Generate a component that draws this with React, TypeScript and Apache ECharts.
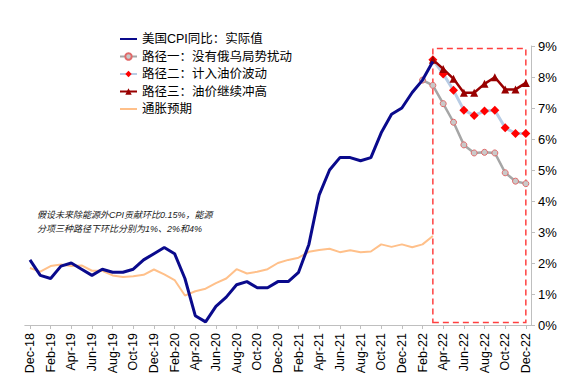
import React, { useEffect, useRef } from "react";
import * as echarts from "echarts";

const months = [
  "Dec-18","Jan-19","Feb-19","Mar-19","Apr-19","May-19","Jun-19","Jul-19","Aug-19","Sep-19","Oct-19","Nov-19",
  "Dec-19","Jan-20","Feb-20","Mar-20","Apr-20","May-20","Jun-20","Jul-20","Aug-20","Sep-20","Oct-20","Nov-20",
  "Dec-20","Jan-21","Feb-21","Mar-21","Apr-21","May-21","Jun-21","Jul-21","Aug-21","Sep-21","Oct-21","Nov-21",
  "Dec-21","Jan-22","Feb-22","Mar-22","Apr-22","May-22","Jun-22","Jul-22","Aug-22","Sep-22","Oct-22","Nov-22","Dec-22",
];

// Actual CPI YoY, Dec-18 .. Mar-22
const cpiActual = [
  2.1, 1.6, 1.5, 1.9, 2.0, 1.8, 1.6, 1.8, 1.7, 1.7, 1.8, 2.1,
  2.3, 2.5, 2.3, 1.5, 0.3, 0.1, 0.6, 0.9, 1.3, 1.4, 1.2, 1.2,
  1.4, 1.4, 1.7, 2.6, 4.2, 5.0, 5.4, 5.4, 5.3, 5.4, 6.2, 6.8,
  7.0, 7.5, 7.9, 8.5,
];

// Inflation expectations, Dec-18 .. Mar-22
const inflationExp = [
  1.84, 1.72, 1.9, 1.95, 1.9, 1.92, 1.75, 1.75, 1.6, 1.55, 1.57, 1.62,
  1.79, 1.63, 1.45, 0.95, 1.09, 1.17, 1.35, 1.5, 1.8, 1.66, 1.72, 1.8,
  2.0, 2.1, 2.17, 2.36, 2.42, 2.46, 2.35, 2.41, 2.35, 2.37, 2.6, 2.52,
  2.6, 2.51, 2.6, 2.87,
];

// Path 1: Feb-22 .. Dec-22
const path1 = [7.9, 7.73, 7.14, 6.54, 5.81, 5.55, 5.57, 5.55, 4.91, 4.64, 4.56];
// Path 2: Mar-22 .. Dec-22
const path2 = [8.56, 8.1, 7.57, 6.93, 6.76, 6.9, 6.93, 6.36, 6.18, 6.18];
// Path 3: Mar-22 .. Dec-22
const path3 = [8.56, 8.26, 7.94, 7.49, 7.49, 7.78, 7.99, 7.6, 7.6, 7.81];

const yTicks = [0, 1, 2, 3, 4, 5, 6, 7, 8, 9];
const forecastBox = { from: "Mar-22", to: "Dec-22", low: 0.08, high: 8.92 };

const seriesNames = [
  "美国CPI同比：实际值",
  "路径一：没有俄乌局势扰动",
  "路径二：计入油价波动",
  "路径三：油价继续冲高",
  "通胀预期",
];

const noteLines = [
  "假设未来除能源外CPI贡献环比0.15%，能源",
  "分项三种路径下环比分别为1%、2%和4%",
];

function pad(values: number[], startLabel: string): (number | null)[] {
  const start = months.indexOf(startLabel);
  return months.map((_, i) => {
    const k = i - start;
    return k >= 0 && k < values.length ? values[k] : null;
  });
}

const FONT = "'Liberation Sans', Arial, 'Noto Sans CJK SC', sans-serif";

export default function App() {
  const ref = useRef<HTMLDivElement>(null);
  useEffect(() => {
    if (!ref.current) return;
    const chart = echarts.init(ref.current, undefined, { renderer: "svg" });
    const hiddenSymbol = { opacity: 0, color: "rgba(0,0,0,0)", borderWidth: 0 };
    chart.setOption({
      animation: false,
      backgroundColor: "#ffffff",
      textStyle: { fontFamily: FONT },
      grid: { left: 24.8, right: 52, top: 46, bottom: 63, containLabel: false },
      legend: {
        orient: "vertical",
        left: 114,
        top: 27,
        itemWidth: 17,
        itemHeight: 8,
        itemGap: 3.5,
        data: [
          { name: seriesNames[0], itemStyle: hiddenSymbol },
          { name: seriesNames[1] },
          { name: seriesNames[2] },
          { name: seriesNames[3] },
          { name: seriesNames[4], itemStyle: hiddenSymbol },
        ],
        textStyle: { fontSize: 12.5, lineHeight: 14, color: "#000", fontFamily: FONT },
      },
      xAxis: {
        type: "category",
        data: months,
        boundaryGap: true,
        axisLine: { lineStyle: { color: "#bfbfbf", width: 1 } },
        axisTick: { show: true, interval: 1, alignWithLabel: true, length: 4, lineStyle: { color: "#bfbfbf" } },
        axisLabel: { interval: 1, rotate: 90, fontSize: 12.5, color: "#000", margin: 8, fontFamily: FONT },
        splitLine: { show: false },
      },
      yAxis: {
        type: "value",
        position: "right",
        min: yTicks[0],
        max: yTicks[yTicks.length - 1],
        interval: 1,
        axisLine: { show: true, lineStyle: { color: "#bfbfbf" } },
        axisTick: { show: true, length: 4, lineStyle: { color: "#bfbfbf" } },
        axisLabel: { formatter: "{value}%", fontSize: 13, color: "#000", margin: 7, fontFamily: FONT },
        splitLine: { show: false },
      },
      graphic: [
        {
          type: "text",
          left: 37,
          top: 208,
          style: {
            text: noteLines.join("\n"),
            font: "italic 9px 'Liberation Sans', 'Noto Sans CJK SC', sans-serif",
            fill: "#222",
            lineHeight: 14,
          },
        },
      ],
      series: [
        {
          name: seriesNames[0],
          type: "line",
          data: pad(cpiActual, "Dec-18"),
          symbol: "none",
          lineStyle: { color: "#0a0a8c", width: 3 },
          itemStyle: { color: "#0a0a8c" },
          z: 3,
        },
        {
          name: seriesNames[1],
          type: "line",
          data: pad(path1, "Feb-22"),
          symbol: "circle",
          symbolSize: 6,
          showAllSymbol: true,
          lineStyle: { color: "#a6a6a6", width: 2.5 },
          itemStyle: { color: "#c9c9c9", borderColor: "#e06a6a", borderWidth: 1 },
          z: 2,
        },
        {
          name: seriesNames[2],
          type: "line",
          data: pad(path2, "Mar-22"),
          symbol: "diamond",
          symbolSize: 9,
          showAllSymbol: true,
          lineStyle: { color: "#b8cce4", width: 3 },
          itemStyle: { color: "#ff0000" },
          z: 2,
        },
        {
          name: seriesNames[3],
          type: "line",
          data: pad(path3, "Mar-22"),
          symbol: "triangle",
          symbolSize: 8,
          showAllSymbol: true,
          lineStyle: { color: "#990000", width: 2.5 },
          itemStyle: { color: "#990000" },
          z: 2,
          markArea: {
            silent: true,
            itemStyle: {
              color: "rgba(0,0,0,0)",
              borderColor: "#ff4040",
              borderWidth: 1.5,
              borderType: [6, 4],
            },
            data: [
              [
                { xAxis: forecastBox.from, yAxis: forecastBox.low },
                { xAxis: forecastBox.to, yAxis: forecastBox.high },
              ],
            ],
          },
        },
        {
          name: seriesNames[4],
          type: "line",
          data: pad(inflationExp, "Dec-18"),
          symbol: "none",
          lineStyle: { color: "#ffc08a", width: 2 },
          itemStyle: { color: "#ffc08a" },
          z: 1,
        },
      ],
    });
    return () => chart.dispose();
  }, []);
  return (
    <div
      ref={ref}
      style={{ position: "absolute", left: 0, top: 0, width: 583, height: 388 }}
    />
  );
}
